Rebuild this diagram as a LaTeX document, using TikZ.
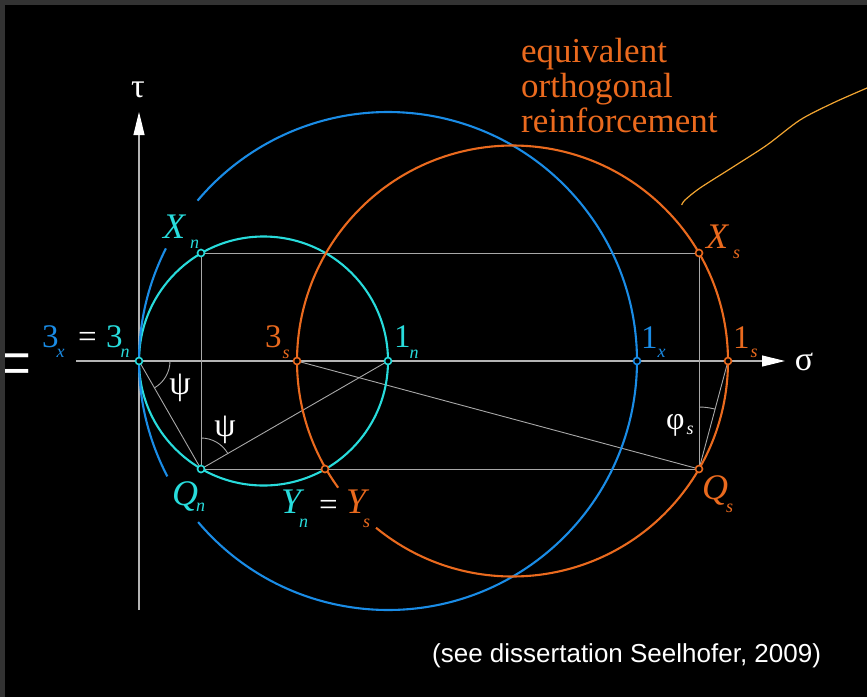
\documentclass[tikz,border=0pt]{standalone}
\usepackage{fontspec}
\setmainfont{Liberation Serif}
\newfontfamily\sansf{Liberation Sans}
\usetikzlibrary{arrows.meta,angles}
\definecolor{ccyan}{HTML}{28DCDC}
\definecolor{cblue}{HTML}{1A8CE6}
\definecolor{corange}{HTML}{EA6A1E}
\definecolor{cyell}{HTML}{F2A531}
\definecolor{cgray}{HTML}{A8A8A8}
\definecolor{caxis}{HTML}{B4B4B4}
\definecolor{cborder}{HTML}{333333}
\newcommand\fs[1]{\fontsize{#1}{#1}\selectfont}
\newcommand\sbx[2]{\raisebox{-#1pt}{\fs{18}\itshape #2}}
\tikzset{
  lab/.style={inner sep=0pt, anchor=base west},
  greek/.style={inner sep=0pt, text=white, font=\fs{34}},
  otext/.style={inner sep=0pt, anchor=base west, text=corange, font=\fs{35}},
  thinline/.style={draw=cgray, line width=0.9pt},
  circ/.style={line width=2.1pt},
  dot/.style={fill=black, line width=1.6pt},
  angarc/.style={draw=cgray, line width=0.9pt},
}
\begin{document}
\begin{tikzpicture}[x=1pt,y=1pt]
\useasboundingbox (0,0) rectangle (867,-697);
\fill[black] (0,0) rectangle (867,-697);
% points
\coordinate (p3n) at (139,-361);
\coordinate (p1n) at (388,-361);
\coordinate (p1x) at (637,-361);
\coordinate (p3s) at (297,-361);
\coordinate (p1s) at (728,-361);
\coordinate (pXn) at (201,-253);
\coordinate (pQn) at (201,-469);
\coordinate (pXs) at (699,-253);
\coordinate (pQs) at (699,-469);
\coordinate (pYs) at (325,-469);
\coordinate (cC) at (263.5,-361);
\coordinate (cB) at (388,-361);
\coordinate (cO) at (512.5,-361);
\coordinate (axL) at (76,-361);
\coordinate (axR) at (785,-361);
\coordinate (axB) at (139,-610);
\coordinate (axT) at (139,-112);
% axes
\draw[draw=caxis, line width=1.1pt, -{Triangle[length=23pt,width=11pt,color=white]}] (axL) -- (axR);
\draw[draw=caxis, line width=1.1pt, -{Triangle[length=23pt,width=11pt,color=white]}] (axB) -- (axT);
% construction lines
\draw[thinline] (pXn) -- (pXs) -- (pQs) -- (pQn) -- cycle;
\draw[thinline] (p3n) -- (pQn) -- (p1n);
\draw[thinline] (p3s) -- (pQs) -- (p1s);
% angles
\pic[angarc, angle radius=31pt] {angle = pQn--p3n--p1n};
\pic[angarc, angle radius=31pt] {angle = p1n--pQn--pXn};
\pic[angarc, angle radius=62pt] {angle = p1s--pQs--pXs};
% circles
\draw[circ, ccyan] (cC) circle (124.5pt);
\draw[circ, cblue] ([shift={(153.1:249pt)}]cB) arc[start angle=153.1, end angle=207.6, radius=249pt];
\draw[circ, cblue] ([shift={(220.3:249pt)}]cB) arc[start angle=220.3, end angle=499.9, radius=249pt];
\draw[circ, corange] ([shift={(230.7:215.5pt)}]cO) arc[start angle=230.7, end angle=576, radius=215.5pt];
% yellow curve
\draw[cyell, line width=1.2pt] plot[smooth] coordinates {(681.7,-205) (685,-200) (700,-188) (733,-167) (767,-145) (800,-120) (833,-103) (867,-88)};
% dots
\foreach \p in {p3n,p1n,pXn,pQn} \draw[dot, draw=ccyan] (\p) circle (3.5pt);
\foreach \p in {p3s,p1s,pXs,pQs,pYs} \draw[dot, draw=corange] (\p) circle (3.5pt);
\draw[dot, draw=cblue] (p1x) circle (3.5pt);
% labels
\node[lab, text=cblue] (l3x) at (42,-347) {\fs{33}3\kern-2pt\sbx{10}{x}};
\node[lab, text=white] (leq1) at (78,-347) {\fs{33}=};
\node[lab, text=ccyan] (l3n) at (106,-347) {\fs{33}3\kern-2pt\sbx{10}{n}};
\node[lab, text=ccyan] (lXn) at (163,-238) {\fs{36}\itshape X\kern5pt\sbx{10}{n}};
\node[lab, text=ccyan] (lQn) at (172,-505) {\fs{36}\itshape Q\kern-2pt\sbx{6}{n}};
\node[lab, text=ccyan] (lYn) at (281,-513) {\fs{36}\itshape Y\kern-2pt\sbx{14}{n}};
\node[lab, text=white] (leq2) at (319,-515) {\fs{33}=};
\node[lab, text=corange] (lYs) at (346,-513) {\fs{36}\itshape Y\kern-3pt\sbx{14}{s}};
\node[lab, text=corange] (l3s) at (265,-347) {\fs{33}3\kern1pt\sbx{11}{s}};
\node[lab, text=ccyan] (l1n) at (394,-347) {\fs{33}1\kern-1pt\sbx{11}{n}};
\node[lab, text=cblue] (l1x) at (641,-348) {\fs{33}1\kern0pt\sbx{9}{x}};
\node[lab, text=corange] (l1s) at (733,-348) {\fs{33}1\kern1pt\sbx{9}{s}};
\node[lab, text=corange] (lXs) at (706,-248) {\fs{36}\itshape X\kern5pt\sbx{10}{s}};
\node[lab, text=corange] (lQs) at (702,-499) {\fs{36}\itshape Q\kern-2pt\sbx{13}{s}};
\node[lab, text=white] (lphi) at (666,-429) {\fs{32}φ\kern2pt\sbx{5}{s}};
\node[greek] (lpsi1) at (180,-388) {ψ};
\node[greek] (lpsi2) at (225,-430) {ψ};
\node[greek] (ltau) at (138,-90) {τ};
\node[greek] (lsig) at (804,-362) {σ};
\node[otext] (ltxt1) at (521,-62) {equivalent};
\node[otext] (ltxt2) at (521,-97) {orthogonal};
\node[otext] (ltxt3) at (521,-132) {reinforcement};
\node[inner sep=0pt, anchor=base west, text=white, font=\sansf\fs{26}] (lcap) at (432,-662) {(see dissertation Seelhofer, 2009)};
\node[inner sep=0pt, anchor=base, text=white, font=\fs{78}] (lbigeq) at (10,-389) {=};
% border
\fill[cborder] (0,0) rectangle (867,-5);
\fill[cborder] (0,0) rectangle (5,-697);
\end{tikzpicture}
\end{document}
